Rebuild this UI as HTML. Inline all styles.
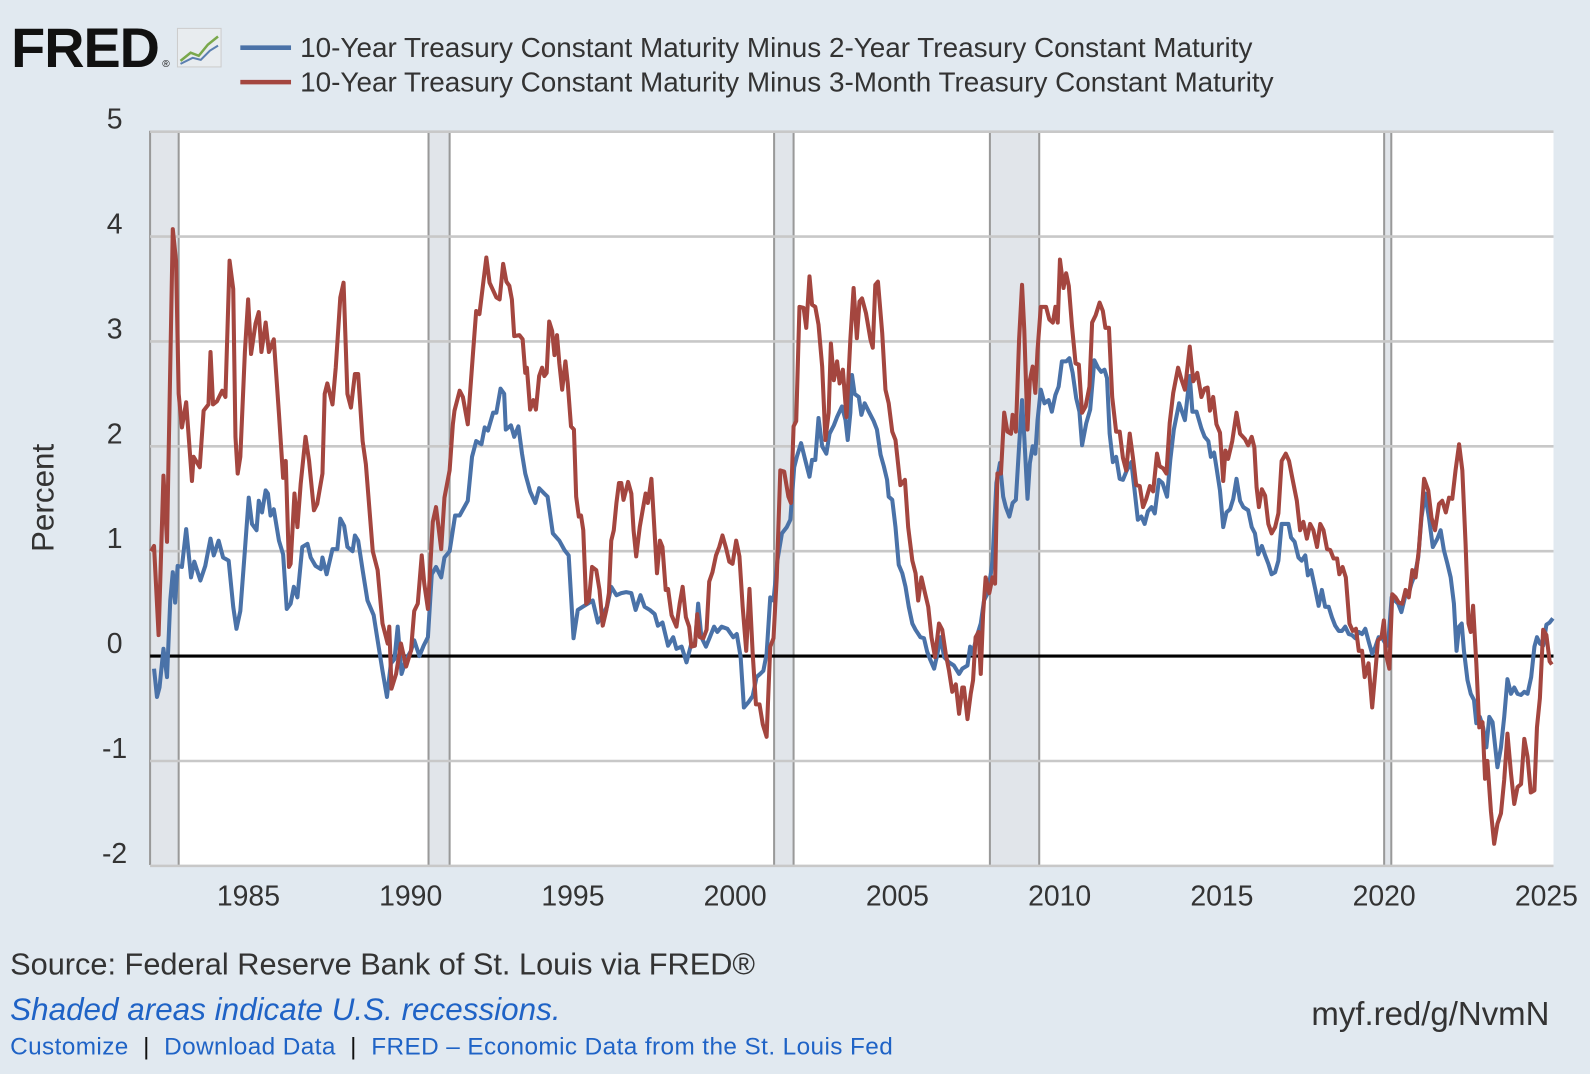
<!DOCTYPE html>
<html><head><meta charset="utf-8"><style>
html,body{margin:0;padding:0;background:#e1e9f0;}
body{width:1590px;height:1074px;position:relative;overflow:hidden;font-family:"Liberation Sans",sans-serif;}
#wrap{position:absolute;left:0;top:0;width:1568px;height:1059px;transform:scale(1.01403);transform-origin:0 0;}
svg{position:absolute;left:0;top:0;}
.t{font-family:"Liberation Sans",sans-serif;}
</style></head><body>
<div id="wrap">
<svg id="chart" width="1568" height="1059"></svg>
<svg width="1568" height="120" style="position:absolute;left:0;top:0">
  <text x="11" y="66" font-size="55" font-weight="bold" fill="#111" class="t" letter-spacing="-1">FRED</text>
  <text x="160" y="66" font-size="10" fill="#111" class="t">®</text>
  <g>
    <rect x="175" y="28" width="43" height="38" fill="#e8ecef" stroke="#ccc"/>
    <polyline points="178,60 188,52 196,55 205,44 215,36" fill="none" stroke="#7aa84c" stroke-width="2.5"/>
    <polyline points="178,63 190,57 198,59 207,50 215,45" fill="none" stroke="#5b7fb0" stroke-width="2"/>
  </g>
  <line x1="237" y1="47" x2="287" y2="47" stroke="#4a72a8" stroke-width="4.5"/>
  <text x="296" y="56" font-size="27.5" fill="#333" class="t">10-Year Treasury Constant Maturity Minus 2-Year Treasury Constant Maturity</text>
  <line x1="237" y1="81" x2="287" y2="81" stroke="#a4463f" stroke-width="4.5"/>
  <text x="296" y="90" font-size="27.5" fill="#333" class="t">10-Year Treasury Constant Maturity Minus 3-Month Treasury Constant Maturity</text>
</svg>
<div style="position:absolute;left:10px;top:935px;font-size:30.3px;color:#333;white-space:nowrap">Source: Federal Reserve Bank of St. Louis via FRED®</div>
<div style="position:absolute;left:10px;top:978px;font-size:31px;color:#1f63c6;font-style:italic;white-space:nowrap">Shaded areas indicate U.S. recessions.</div>
<div style="position:absolute;right:40px;top:982px;font-size:32.5px;color:#333;white-space:nowrap">myf.red/g/NvmN</div>
<div style="position:absolute;left:10px;top:1019px;font-size:24px;color:#1f63c6;white-space:nowrap;letter-spacing:0.4px"><span>Customize</span><span style="color:#111"> &nbsp;|&nbsp; </span><span>Download Data</span><span style="color:#111"> &nbsp;|&nbsp; </span><span>FRED – Economic Data from the St. Louis Fed</span></div>
</div>
<script>
const t2Years=[1982.09,1982.18,1982.26,1982.38,1982.49,1982.59,1982.67,1982.74,1982.82,1982.95,1983.08,1983.23,1983.33,1983.52,1983.67,1983.83,1983.93,1984.08,1984.22,1984.39,1984.53,1984.63,1984.75,1984.88,1985.01,1985.11,1985.25,1985.32,1985.42,1985.53,1985.6,1985.68,1985.78,1985.94,1986.07,1986.18,1986.3,1986.4,1986.51,1986.66,1986.82,1986.92,1987.07,1987.23,1987.28,1987.41,1987.59,1987.74,1987.83,1987.95,1988.05,1988.21,1988.28,1988.38,1988.52,1988.67,1988.86,1988.98,1989.13,1989.27,1989.39,1989.5,1989.6,1989.72,1989.86,1990.01,1990.11,1990.27,1990.4,1990.53,1990.65,1990.78,1990.94,1991.04,1991.2,1991.37,1991.51,1991.76,1991.89,1992.02,1992.18,1992.28,1992.38,1992.54,1992.64,1992.77,
1992.88,1992.93,1993.09,1993.19,1993.32,1993.43,1993.53,1993.68,1993.84,1993.96,1994.12,1994.22,1994.38,1994.58,1994.74,1994.87,1995.02,1995.15,1995.3,1995.46,1995.61,1995.77,1995.92,1996.05,1996.18,1996.34,1996.49,1996.64,1996.8,1996.93,1997.08,1997.21,1997.37,1997.52,1997.62,1997.76,1997.93,1998.09,1998.19,1998.35,1998.5,1998.65,1998.76,1998.86,1998.96,1999.1,1999.22,1999.35,1999.45,1999.58,1999.76,1999.94,2000.05,2000.17,2000.27,2000.41,2000.54,2000.66,2000.77,2000.87,2000.97,2001.08,2001.18,2001.3,2001.44,2001.59,2001.7,2001.82,2001.9,2002.03,2002.16,2002.29,2002.37,2002.47,2002.57,2002.68,2002.81,2002.91,2003.04,2003.14,2003.29,2003.4,2003.47,2003.55,
2003.6,2003.68,2003.81,2003.89,2003.99,2004.12,2004.27,2004.37,2004.48,2004.58,2004.68,2004.73,2004.84,2004.94,2005.04,2005.15,2005.25,2005.35,2005.46,2005.56,2005.71,2005.82,2005.92,2006.02,2006.13,2006.23,2006.33,2006.44,2006.59,2006.74,2006.9,2007.0,2007.16,2007.24,2007.31,2007.47,2007.57,2007.67,2007.78,2007.88,2007.93,2008.05,2008.16,2008.26,2008.34,2008.45,2008.55,2008.65,2008.75,2008.84,2008.91,2009.01,2009.08,2009.17,2009.25,2009.32,2009.42,2009.53,2009.66,2009.76,2009.87,2009.97,2010.07,2010.2,2010.3,2010.4,2010.51,2010.61,2010.69,2010.82,2010.94,2011.07,2011.18,2011.28,2011.38,2011.46,2011.54,2011.64,2011.74,2011.85,2011.95,2012.07,2012.21,2012.31,2012.41,2012.52,2012.62,2012.72,2012.83,2012.93,2013.06,2013.17,2013.31,2013.41,2013.52,2013.68,2013.86,2014.01,2014.09,2014.22,
2014.37,2014.47,2014.58,2014.66,2014.76,2014.83,2014.94,2015.04,2015.14,2015.25,2015.35,2015.45,2015.56,2015.66,2015.81,2015.92,2016.02,2016.12,2016.23,2016.33,2016.43,2016.53,2016.64,2016.74,2016.84,2016.95,2017.05,2017.13,2017.24,2017.36,2017.46,2017.57,2017.65,2017.75,2017.88,2017.98,2018.08,2018.18,2018.29,2018.39,2018.49,2018.6,2018.7,2018.8,2018.91,2019.01,2019.11,2019.22,2019.32,2019.42,2019.53,2019.63,2019.73,2019.83,2019.94,2020.04,2020.12,2020.23,2020.33,2020.43,2020.53,2020.64,2020.74,2020.84,2020.95,2021.05,2021.15,2021.26,2021.38,2021.5,2021.64,2021.74,2021.84,2021.95,2022.05,2022.15,2022.23,2022.31,2022.39,2022.46,2022.57,2022.67,2022.77,2022.84,2022.95,2023.05,2023.15,2023.24,2023.34,2023.49,2023.6,2023.7,2023.8,2023.91,2024.01,2024.11,2024.22,2024.32,2024.42,2024.53,2024.63,2024.71,2024.8,2024.9,2025.0,2025.1,2025.2];
const t2Values=[-0.12,-0.39,-0.3,0.07,-0.2,0.53,0.8,0.51,0.86,0.85,1.21,0.75,0.9,0.72,0.86,1.12,0.96,1.1,0.94,0.91,0.47,0.26,0.43,0.97,1.51,1.26,1.2,1.48,1.37,1.58,1.55,1.34,1.4,1.1,0.97,0.45,0.5,0.66,0.56,1.04,1.07,0.94,0.86,0.83,0.94,0.78,1.02,1.02,1.31,1.24,1.04,1.0,1.15,1.1,0.82,0.53,0.39,0.15,-0.14,-0.39,-0.07,-0.03,0.28,-0.17,-0.03,0.05,0.15,0.0,0.1,0.18,0.78,0.85,0.75,0.94,1.0,1.34,1.34,1.48,1.9,2.05,2.02,2.18,2.15,2.32,2.32,2.55,
2.5,2.16,2.2,2.09,2.19,1.93,1.74,1.57,1.46,1.6,1.55,1.52,1.17,1.1,1.01,0.96,0.17,0.44,0.47,0.5,0.53,0.32,0.4,0.47,0.66,0.58,0.6,0.61,0.6,0.44,0.58,0.47,0.44,0.4,0.29,0.32,0.1,0.18,0.07,0.09,-0.06,0.12,0.1,0.5,0.18,0.09,0.18,0.28,0.23,0.28,0.26,0.18,0.21,-0.01,-0.49,-0.44,-0.38,-0.2,-0.17,-0.14,0.02,0.56,0.53,0.91,1.17,1.23,1.3,1.8,1.9,2.03,1.87,1.71,1.87,1.87,2.27,2.0,1.93,2.12,2.2,2.28,2.38,2.25,2.06,2.32,
2.68,2.5,2.47,2.3,2.41,2.33,2.24,2.16,1.92,1.81,1.68,1.52,1.49,1.23,0.87,0.79,0.66,0.47,0.31,0.25,0.18,0.17,0.04,-0.04,-0.12,0.02,0.18,-0.01,-0.06,-0.09,-0.17,-0.12,-0.09,0.09,0.02,0.21,0.31,0.53,0.6,0.79,0.91,1.65,1.84,1.52,1.42,1.33,1.46,1.49,2.0,2.44,2.09,1.5,1.84,2.0,1.93,2.25,2.54,2.41,2.44,2.33,2.49,2.57,2.81,2.81,2.84,2.7,2.46,2.33,2.01,2.22,2.35,2.82,2.75,2.71,2.73,2.65,2.12,1.85,1.9,1.69,1.68,1.77,1.85,1.58,1.3,1.33,1.26,1.38,1.42,1.36,1.68,1.65,1.52,1.87,2.16,2.41,2.25,2.67,2.33,2.33,
2.17,2.09,2.05,1.9,1.94,1.8,1.58,1.23,1.37,1.4,1.5,1.69,1.48,1.42,1.39,1.23,1.17,0.97,1.05,0.96,0.88,0.78,0.8,0.91,1.26,1.26,1.26,1.13,1.09,0.94,0.91,0.96,0.77,0.82,0.63,0.48,0.63,0.47,0.47,0.37,0.29,0.24,0.24,0.28,0.21,0.2,0.17,0.23,0.21,0.26,0.13,0.02,0.09,0.18,0.17,0.12,0.1,0.56,0.53,0.5,0.42,0.56,0.58,0.69,0.78,0.94,1.32,1.55,1.32,1.04,1.12,1.2,1.01,0.88,0.75,0.5,0.05,0.28,0.31,0.05,-0.23,-0.36,-0.42,-0.64,-0.58,-0.68,-0.87,-0.58,-0.63,-1.06,-0.87,-0.58,-0.22,-0.36,-0.3,-0.36,-0.37,-0.34,-0.36,-0.2,0.09,0.18,0.12,0.1,0.3,0.32,0.36];
const t3Years=[1982.0,1982.09,1982.23,1982.38,1982.49,1982.67,1982.77,1982.85,1982.95,1983.08,1983.26,1983.31,1983.5,1983.62,1983.77,1983.83,1983.91,1984.03,1984.19,1984.29,1984.42,1984.53,1984.6,1984.67,1984.75,1984.89,1984.99,1985.08,1985.22,1985.32,1985.4,1985.53,1985.63,1985.78,1985.94,1986.07,1986.15,1986.25,1986.3,1986.42,1986.51,1986.61,1986.76,1986.87,1987.02,1987.12,1987.28,1987.35,1987.43,1987.59,1987.69,1987.83,1987.93,1988.05,1988.16,1988.28,1988.38,1988.52,1988.62,1988.83,1988.98,1989.13,1989.29,1989.34,1989.41,1989.55,1989.7,1989.86,1990.01,1990.11,1990.22,1990.34,1990.42,1990.53,1990.68,1990.78,1990.94,1991.04,1991.2,1991.3,1991.35,1991.51,1991.61,1991.76,1991.92,1992.02,1992.12,1992.33,1992.43,1992.64,1992.74,1992.85,
1992.95,1993.04,1993.12,1993.19,1993.35,1993.45,1993.53,1993.58,1993.68,1993.78,1993.86,1993.96,1994.05,1994.12,1994.19,1994.27,1994.36,1994.43,1994.51,1994.58,1994.67,1994.77,1994.84,1994.94,1995.03,1995.1,1995.18,1995.25,1995.32,1995.41,1995.49,1995.59,1995.72,1995.82,1995.92,1996.03,1996.11,1996.18,1996.26,1996.34,1996.42,1996.49,1996.56,1996.7,1996.8,1996.87,1996.95,1997.06,1997.16,1997.24,1997.31,1997.42,1997.52,1997.59,1997.68,1997.76,1997.86,1997.93,1998.04,1998.19,1998.29,1998.38,1998.48,1998.58,1998.65,1998.76,1998.83,1998.91,1999.02,1999.12,1999.2,1999.3,1999.41,1999.51,1999.61,1999.72,1999.82,1999.92,2000.03,2000.13,2000.23,2000.34,2000.44,2000.54,2000.64,2000.75,2000.85,2000.97,2001.08,2001.18,2001.28,2001.39,2001.51,2001.64,2001.72,2001.8,2001.88,2001.98,2002.11,2002.19,2002.29,2002.37,2002.47,2002.57,2002.68,2002.78,2002.88,2002.95,2003.04,2003.14,2003.22,2003.32,2003.43,2003.55,2003.65,
2003.75,2003.83,2003.91,2004.03,2004.17,2004.24,2004.32,2004.4,2004.53,2004.63,2004.73,2004.84,2004.94,2005.09,2005.23,2005.33,2005.46,2005.56,2005.64,2005.74,2005.85,2005.95,2006.05,2006.16,2006.28,2006.38,2006.49,2006.59,2006.69,2006.8,2006.9,2007.0,2007.05,2007.16,2007.26,2007.33,2007.41,2007.5,2007.57,2007.64,2007.72,2007.83,2007.93,2008.01,2008.08,2008.19,2008.29,2008.39,2008.5,2008.55,2008.65,2008.75,2008.84,2008.91,2009.01,2009.08,2009.17,2009.25,2009.32,2009.42,2009.58,2009.68,2009.79,2009.87,2009.94,2010.01,2010.12,2010.2,2010.28,2010.38,2010.49,2010.59,2010.69,2010.8,2010.92,2011.0,2011.11,2011.23,2011.33,2011.41,2011.52,2011.62,2011.74,2011.85,2011.95,2012.05,2012.16,2012.26,2012.36,2012.47,2012.57,2012.67,2012.78,2012.88,2013.0,2013.08,2013.19,2013.29,2013.39,2013.5,2013.65,2013.75,2013.86,2014.01,2014.12,2014.24,
2014.37,2014.47,2014.56,2014.63,2014.73,2014.83,2014.94,2015.04,2015.11,2015.19,2015.32,2015.45,2015.56,2015.71,2015.81,2015.92,2016.0,2016.07,2016.14,2016.23,2016.33,2016.43,2016.53,2016.64,2016.74,2016.84,2016.97,2017.07,2017.17,2017.31,2017.41,2017.51,2017.62,2017.72,2017.82,2017.93,2018.03,2018.13,2018.24,2018.34,2018.44,2018.55,2018.62,2018.72,2018.82,2018.93,2019.03,2019.13,2019.22,2019.32,2019.4,2019.52,2019.63,2019.73,2019.81,2019.92,2019.99,2020.06,2020.16,2020.25,2020.35,2020.45,2020.56,2020.66,2020.76,2020.87,2020.97,2021.07,2021.23,2021.36,2021.46,2021.57,2021.69,2021.79,2021.9,2022.0,2022.1,2022.2,2022.31,2022.41,2022.51,2022.6,2022.67,2022.74,2022.84,2022.93,2023.03,2023.11,2023.18,2023.29,2023.39,2023.49,2023.6,2023.7,2023.8,2023.91,2024.01,2024.11,2024.22,2024.32,2024.42,2024.52,2024.63,2024.71,2024.8,2024.9,2025.0,2025.1,2025.17];
const t3Values=[1.0,1.05,0.2,1.72,1.09,4.07,3.77,2.5,2.18,2.42,1.67,1.9,1.8,2.34,2.4,2.9,2.4,2.43,2.53,2.47,3.77,3.5,2.09,1.74,1.9,2.9,3.4,2.88,3.17,3.28,2.9,3.18,2.9,3.02,2.31,1.7,1.86,0.85,0.88,1.55,1.23,1.64,2.09,1.86,1.39,1.45,1.74,2.5,2.6,2.4,2.75,3.42,3.56,2.5,2.37,2.69,2.69,2.05,1.83,1.0,0.82,0.31,0.12,0.28,-0.31,-0.17,0.12,-0.1,0.05,0.43,0.5,0.96,0.69,0.45,1.28,1.42,1.02,1.51,1.77,2.21,2.34,2.53,2.47,2.21,2.88,3.29,3.26,3.8,3.56,3.42,3.4,3.74,
3.57,3.53,3.4,3.05,3.06,3.02,2.7,2.75,2.35,2.44,2.35,2.67,2.75,2.67,2.7,3.19,3.1,2.87,3.06,2.79,2.54,2.81,2.6,2.19,2.16,1.52,1.33,1.34,1.2,0.5,0.53,0.85,0.82,0.63,0.29,0.44,0.6,1.1,1.2,1.46,1.65,1.65,1.49,1.66,1.55,1.2,0.95,1.23,1.41,1.55,1.46,1.69,1.17,0.79,1.1,1.04,0.63,0.64,0.39,0.28,0.5,0.66,0.37,0.28,0.09,0.1,0.4,0.18,0.17,0.25,0.71,0.8,0.96,1.04,1.15,1.03,0.9,0.88,1.1,0.95,0.47,0.05,0.64,0.02,-0.46,-0.46,-0.65,-0.77,0.09,0.17,0.75,1.77,1.76,1.52,1.46,2.19,2.24,3.33,3.32,3.13,3.62,3.35,3.33,3.16,2.76,2.06,2.32,2.98,2.63,2.81,2.6,2.73,2.28,3.02,3.51,
3.03,3.38,3.41,3.27,3.02,2.94,3.54,3.57,3.08,2.54,2.41,2.14,2.06,1.63,1.68,1.23,0.91,0.79,0.53,0.75,0.6,0.47,0.18,-0.01,0.31,0.25,0.02,-0.14,-0.34,-0.27,-0.55,-0.3,-0.3,-0.6,-0.36,-0.23,0.18,0.23,-0.17,0.4,0.75,0.6,0.75,0.69,1.74,1.74,2.32,2.14,2.12,2.3,2.14,3.02,3.54,3.11,2.16,2.63,2.76,2.51,2.92,3.33,3.33,3.21,3.18,3.33,3.18,3.78,3.51,3.65,3.53,3.14,2.79,2.78,2.32,2.38,2.57,3.18,3.25,3.37,3.29,3.13,3.13,2.47,2.14,2.14,1.89,1.77,2.12,1.89,1.63,1.62,1.42,1.5,1.62,1.57,1.93,1.81,1.79,1.74,2.22,2.51,2.75,2.64,2.54,2.95,2.62,2.7,
2.47,2.55,2.56,2.34,2.47,2.21,2.13,1.67,1.96,1.88,2.05,2.32,2.12,2.07,2.01,2.09,1.99,1.61,1.42,1.59,1.53,1.26,1.17,1.23,1.36,1.86,1.93,1.86,1.7,1.48,1.2,1.28,1.12,1.26,1.2,1.04,1.26,1.2,1.02,1.01,0.93,0.93,0.78,0.85,0.75,0.31,0.24,0.26,0.05,0.05,-0.2,-0.07,-0.49,-0.14,0.15,0.18,0.34,0.01,-0.12,0.59,0.56,0.51,0.5,0.63,0.56,0.82,0.75,1.01,1.69,1.58,1.32,1.2,1.45,1.48,1.37,1.51,1.5,1.77,2.02,1.77,1.07,0.31,0.23,0.48,-0.07,-0.68,-0.63,-1.17,-1.0,-1.48,-1.79,-1.6,-1.5,-1.18,-0.74,-1.12,-1.41,-1.25,-1.22,-0.79,-0.96,-1.3,-1.28,-0.68,-0.4,0.25,0.2,-0.05,-0.08];
const recStart=[1981.9,1990.55,2001.2,2007.85,2020.0];
const recEnd=[1982.85,1991.2,2001.8,2009.37,2020.22];
const yTicks=[5,4,3,2,1,0,-1,-2];
const xTicks=[1985,1990,1995,2000,2005,2010,2015,2020,2025];

const NS='http://www.w3.org/2000/svg';
const svg=document.getElementById('chart');
const L=148,R=1532,T=129,B=853;
function xs(yr){return 245+(yr-1985)*32;}
function ys(v){return 647-v*103.43;}
function mk(tag,attrs,parent){const e=document.createElementNS(NS,tag);for(const k in attrs)e.setAttribute(k,attrs[k]);(parent||svg).appendChild(e);return e;}

const plot=mk('rect',{x:L,y:T,width:R-L,height:B-T,fill:'#fff'});



for(let i=0;i<recStart.length;i++){
  const x0=Math.max(L,xs(recStart[i])),x1=xs(recEnd[i]);
  const r=mk('rect',{x:x0,y:T,width:x1-x0,height:B-T,fill:'#e1e5ea'});
  
  
  const l1=mk('line',{x1:x0,x2:x0,y1:T,y2:B,stroke:'#999',"stroke-width":2});
  
  
  const l2=mk('line',{x1:x1,x2:x1,y1:T,y2:B,stroke:'#999',"stroke-width":2});
  
  
}
yTicks.forEach(v=>{
  const y=ys(v);
  if(v!==0){const g=mk('line',{x1:L,x2:R,y1:y,y2:y,stroke:'#c8c8c8',"stroke-width":2.5});
  
  }
  const t=mk('text',{x:113,y:y-3,"text-anchor":'middle',"font-size":28,fill:'#333',class:'t'});
  t.textContent=String(v);
  
  
});
xTicks.forEach(v=>{
  const t=mk('text',{x:xs(v),y:893,"text-anchor":'middle',"font-size":28,fill:'#333',class:'t'});
  t.textContent=String(v);
  
  
});
const z=mk('line',{x1:L,x2:R,y1:ys(0),y2:ys(0),stroke:'#000',"stroke-width":3});


function path(xsArr,vals,color,name){
  let d='';
  for(let i=0;i<xsArr.length;i++){d+=(i?'L':'M')+xs(xsArr[i]).toFixed(1)+','+ys(vals[i]).toFixed(1);}
  const p=mk('path',{d:d,fill:'none',stroke:color,"stroke-width":4,"stroke-linejoin":'round'});
  
  
}
path(t2Years,t2Values,'#4a72a8','series-10y-minus-2y');
path(t3Years,t3Values,'#a4463f','series-10y-minus-3m');
const yt=mk('text',{x:53,y:491,"text-anchor":'middle',"font-size":31,fill:'#333',class:'t',transform:'rotate(-90 53 491)'});
yt.textContent='Percent';


</script>
</body></html>
